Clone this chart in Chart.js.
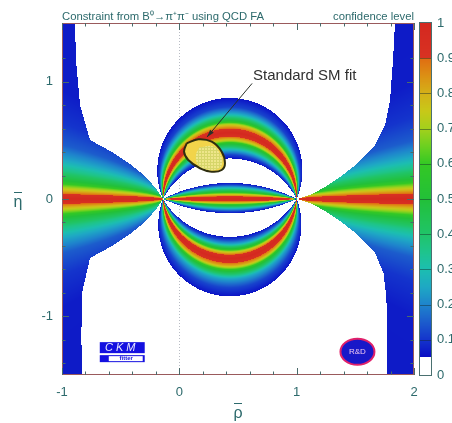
<!DOCTYPE html>
<html>
<head>
<meta charset="utf-8">
<script src="https://cdn.jsdelivr.net/npm/chart.js@4.4.1/dist/chart.umd.min.js"></script>
<style>
  html, body { margin: 0; padding: 0; background: #fff; }
  canvas { display: block; }
</style>
</head>
<body>
<canvas id="alphaChart" width="452" height="423"></canvas>
<script>
// ---- data ----
// pinch points on the eta = 0 axis (left, right)
const pinchRho = [-0.139, 1.0];

// central ring + lens: confidence level vs angle (deg) subtended by the pinch points
const ringUpperPhi = [66.9, 67, 72, 76, 81, 84, 87, 90.5, 94, 98, 101, 108, 113, 117.5, 117.6, 152.9, 153, 156, 160, 167.5, 172, 176, 180];
const ringUpperCL  = [0, 0.06, 0.12, 0.25, 0.5, 0.75, 0.9, 1, 0.9, 0.7, 0.5, 0.25, 0.12, 0.06, 0, 0, 0.06, 0.12, 0.25, 0.5, 0.75, 0.92, 1];
const ringLowerPhi = [68.9, 69, 74, 80, 85.5, 90, 93, 96.5, 100, 103, 106.7, 112, 117, 121, 121.1, 155.9, 156, 159, 163, 169, 173, 176.5, 180];
const ringLowerCL  = [0, 0.06, 0.12, 0.25, 0.5, 0.8, 0.92, 1, 0.92, 0.75, 0.5, 0.25, 0.12, 0.06, 0, 0, 0.06, 0.12, 0.25, 0.5, 0.75, 0.92, 1];

// outer wedges: confidence level vs |eta| / sqrt(distance from pinch)
const wedgeU  = [0, 0.04, 0.09, 0.17, 0.26, 0.36, 0.5, 0.7, 1.0, 5];
const wedgeCL = [1, 0.92, 0.75, 0.5, 0.36, 0.25, 0.15, 0.1, 0.07, 0.06];

// excluded (white) regions around the ring, upper and lower
const whiteTopRho = [-0.889, -0.881, -0.846, -0.761, -0.574, -0.420, -0.284, -0.190, -0.139, 1.003, 1.114, 1.242, 1.370, 1.523, 1.668, 1.753, 1.796, 1.821, 1.838, 1.838, -0.889];
const whiteTopEta = [1.5, 1.185, 0.801, 0.503, 0.401, 0.298, 0.188, 0.077, 0, 0, 0.034, 0.102, 0.188, 0.307, 0.460, 0.631, 0.844, 1.185, 1.5, 1.6, 1.6];
const whiteBotRho = [-0.829, -0.835, -0.830, -0.761, -0.574, -0.420, -0.284, -0.190, -0.139, 1.003, 1.114, 1.242, 1.370, 1.523, 1.668, 1.740, 1.765, 1.770, 1.770, 1.770, -0.829];
const whiteBotEta = [-1.5, -1.185, -0.801, -0.503, -0.401, -0.298, -0.188, -0.077, 0, 0, -0.034, -0.102, -0.188, -0.307, -0.460, -0.631, -0.844, -1.185, -1.5, -1.6, -1.6];

// "Standard SM fit" contour
const smRho = [0.063, 0.162, 0.276, 0.361, 0.389, 0.361, 0.276, 0.176, 0.076, 0.040, 0.063];
const smEta = [0.475, 0.509, 0.488, 0.403, 0.304, 0.247, 0.233, 0.262, 0.332, 0.403, 0.475];
const smHatchRho = [0.17, 0.29, 0.35, 0.365, 0.33, 0.24, 0.16, 0.14, 0.17];
const smHatchEta = [0.44, 0.45, 0.38, 0.30, 0.255, 0.25, 0.29, 0.37, 0.44];

// colour scale
const clStops  = [0.05, 0.1, 0.15, 0.2, 0.25, 0.3, 0.35, 0.4, 0.5, 0.6, 0.65, 0.7, 0.75, 0.8, 0.85, 0.9, 0.901, 1];
const clColors = ['#0a0cc4', '#1434cc', '#1c5ccc', '#1e84cc', '#1ea8c4', '#1cbeb0', '#1ec48c', '#20c468', '#22c038', '#34c824', '#6cd020', '#a4d01c', '#c8c818', '#d4b018', '#dc9014', '#e06c12', '#d83222', '#d42820'];

// ticks
const xTickValues = [-1, 0, 1, 2];
const yTickValues = [-1, 0, 1];
const clTickValues = [0, 0.1, 0.2, 0.3, 0.4, 0.5, 0.6, 0.7, 0.8, 0.9, 1];
const clTickLabels = ['0', '0.1', '0.2', '0.3', '0.4', '0.5', '0.6', '0.7', '0.8', '0.9', '1'];

const textColor = '#2d6a6c';
const fontFamily = '"Liberation Sans", Arial, sans-serif';

function interp(xs, ys, v) {
  if (v <= xs[0]) return ys[0];
  for (let i = 1; i < xs.length; i++) {
    if (v <= xs[i]) {
      const t = (v - xs[i - 1]) / (xs[i] - xs[i - 1]);
      return ys[i - 1] + t * (ys[i] - ys[i - 1]);
    }
  }
  return ys[ys.length - 1];
}

function inside(rs, es, r, e) {
  let c = false;
  for (let i = 0, j = rs.length - 1; i < rs.length; j = i++) {
    if ((es[i] > e) !== (es[j] > e) &&
        r < (rs[j] - rs[i]) * (e - es[i]) / (es[j] - es[i]) + rs[i]) c = !c;
  }
  return c;
}

function confidence(r, e) {
  const ax = pinchRho[0] - r, bx = pinchRho[1] - r, ey = -e;
  const la = Math.hypot(ax, ey), lb = Math.hypot(bx, ey);
  let phi = 0;
  if (la > 0 && lb > 0) {
    const c = Math.max(-1, Math.min(1, (ax * bx + ey * ey) / (la * lb)));
    phi = Math.acos(c) * 180 / Math.PI;
  }
  const ring = e >= 0 ? interp(ringUpperPhi, ringUpperCL, phi) : interp(ringLowerPhi, ringLowerCL, phi);
  let wedge = 0;
  if (r < pinchRho[0] || r > pinchRho[1]) {
    const white = e >= 0 ? inside(whiteTopRho, whiteTopEta, r, e) : inside(whiteBotRho, whiteBotEta, r, e);
    if (!white) {
      const d = r < pinchRho[0] ? pinchRho[0] - r : r - pinchRho[1];
      wedge = interp(wedgeU, wedgeCL, Math.abs(e) / Math.sqrt(d));
    }
  }
  return Math.max(ring, wedge);
}

const clRgb = clColors.map(h => [parseInt(h.slice(1, 3), 16), parseInt(h.slice(3, 5), 16), parseInt(h.slice(5, 7), 16)]);
function clColor(cl) {
  if (cl <= clStops[0]) return clColors[0];
  for (let i = 1; i < clStops.length; i++) {
    if (cl <= clStops[i]) {
      const t = (cl - clStops[i - 1]) / (clStops[i] - clStops[i - 1]);
      const a = clRgb[i - 1], b = clRgb[i];
      return 'rgb(' + Math.round(a[0] + t * (b[0] - a[0])) + ',' + Math.round(a[1] + t * (b[1] - a[1])) + ',' + Math.round(a[2] + t * (b[2] - a[2])) + ')';
    }
  }
  return clColors[clColors.length - 1];
}

// hatch pattern for the inner part of the SM contour
const pat = document.createElement('canvas');
pat.width = 3; pat.height = 3;
const pctx = pat.getContext('2d');
pctx.fillStyle = '#eee68a';
pctx.fillRect(0, 0, 3, 3);
pctx.fillStyle = '#d6d66a';
pctx.fillRect(0, 0, 1, 3);
pctx.fillRect(0, 0, 3, 1);

// CL map + colour bar, drawn through the chart scales
const clMapPlugin = {
  id: 'clMap',
  beforeDatasetsDraw(chart) {
    const {ctx, chartArea: a, scales: {x, y, cl}} = chart;
    ctx.save();
    // dotted rho = 0 line
    ctx.strokeStyle = '#b8bcc4';
    ctx.setLineDash([1, 2]);
    ctx.beginPath();
    ctx.moveTo(Math.round(x.getPixelForValue(0)) + 0.5, a.top);
    ctx.lineTo(Math.round(x.getPixelForValue(0)) + 0.5, a.bottom);
    ctx.stroke();
    ctx.setLineDash([]);

    ctx.beginPath(); ctx.rect(a.left, a.top, a.width, a.height); ctx.clip();
    const nx = Math.round(a.width), ny = Math.round(a.height);
    const dx = (x.max - x.min) / nx, dy = (y.max - y.min) / ny;
    for (let i = 0; i < nx; i++) {
      const r0 = x.min + i * dx;
      const px0 = x.getPixelForValue(r0), px1 = x.getPixelForValue(r0 + dx);
      for (let j = 0; j < ny; j++) {
        const e0 = y.min + j * dy;
        const v = confidence(r0 + dx / 2, e0 + dy / 2);
        if (v < 0.05) continue;
        const py0 = y.getPixelForValue(e0), py1 = y.getPixelForValue(e0 + dy);
        ctx.fillStyle = clColor(v);
        ctx.fillRect(px0, py1, px1 - px0, py0 - py1);
      }
    }
    ctx.restore();

    // colour bar
    ctx.save();
    const bx0 = 420, bx1 = 431;
    const top = cl.getPixelForValue(1), bot = cl.getPixelForValue(0);
    for (let p = Math.floor(top); p < bot; p++) {
      const v = cl.getValueForPixel(p + 0.5);
      ctx.fillStyle = v < 0.05 ? '#ffffff' : clColor(v);
      ctx.fillRect(bx0, p, bx1 - bx0, 1);
    }
    ctx.strokeStyle = 'rgba(20,40,40,0.45)';
    ctx.lineWidth = 1;
    clTickValues.forEach(v => {
      if (v === 0 || v === 1) return;
      const p = Math.round(cl.getPixelForValue(v)) + 0.5;
      ctx.beginPath(); ctx.moveTo(bx0, p); ctx.lineTo(bx1, p); ctx.stroke();
    });
    ctx.strokeStyle = '#4a7070';
    ctx.strokeRect(bx0 - 0.5, top - 0.5, bx1 - bx0 + 1, bot - top + 1);
    ctx.restore();
  },
  afterDatasetsDraw(chart) {
    const {ctx, chartArea: a, scales: {x, y}} = chart;
    ctx.save();
    // arrow to the SM fit
    const sx = x.getPixelForValue(0.62), sy = y.getPixelForValue(0.985);
    const tx = x.getPixelForValue(0.236), ty = y.getPixelForValue(0.528);
    ctx.strokeStyle = '#2a302a';
    ctx.fillStyle = '#2a302a';
    ctx.lineWidth = 1;
    ctx.beginPath(); ctx.moveTo(sx, sy); ctx.lineTo(tx, ty); ctx.stroke();
    const ang = Math.atan2(ty - sy, tx - sx);
    ctx.beginPath();
    ctx.moveTo(tx, ty);
    ctx.lineTo(tx - 8 * Math.cos(ang - 0.3), ty - 8 * Math.sin(ang - 0.3));
    ctx.lineTo(tx - 8 * Math.cos(ang + 0.3), ty - 8 * Math.sin(ang + 0.3));
    ctx.closePath(); ctx.fill();

    ctx.fillStyle = '#303030';
    ctx.font = '15px ' + fontFamily;
    ctx.textBaseline = 'middle';
    ctx.textAlign = 'left';
    ctx.fillText('Standard SM fit', x.getPixelForValue(0.628), y.getPixelForValue(1.048));

    // CKM fitter logo
    const lx = x.getPixelForValue(-0.678), lw = x.getPixelForValue(-0.295) - lx;
    const ly = y.getPixelForValue(-1.22);
    ctx.fillStyle = '#1410e0';
    ctx.fillRect(lx, ly, lw, 11);
    ctx.fillRect(lx, ly + 13, lw, 7);
    ctx.fillStyle = '#ffffff';
    ctx.fillRect(lx + 9, ly + 14, lw - 11, 5);
    ctx.fillStyle = '#e8e8ff';
    ctx.font = 'italic 11px ' + fontFamily;
    ctx.textAlign = 'center';
    ctx.fillText('C K M', lx + lw / 2 - 2, ly + 6);
    ctx.fillStyle = '#1410e0';
    ctx.font = 'bold 6px ' + fontFamily;
    ctx.fillText('fitter', lx + lw / 2 + 4, ly + 16.5);

    // R&D badge
    const ex = x.getPixelForValue(1.518), ey = y.getPixelForValue(-1.302);
    ctx.beginPath();
    ctx.ellipse(ex, ey, 17, 13, 0, 0, Math.PI * 2);
    ctx.fillStyle = '#1818c8';
    ctx.fill();
    ctx.lineWidth = 2;
    ctx.strokeStyle = '#e0206a';
    ctx.stroke();
    ctx.fillStyle = '#f0c8f0';
    ctx.font = '8px ' + fontFamily;
    ctx.fillText('R&D', ex, ey + 0.5);

    // frame and inward ticks
    ctx.strokeStyle = '#9a5a5c';
    ctx.lineWidth = 1;
    ctx.strokeRect(a.left + 0.5, a.top + 0.5, a.width - 1, a.height - 1);
    ctx.strokeStyle = '#4a6a6a';
    for (let k = 0; k <= 15; k++) {
      const v = -1 + k * 0.2;
      const major = Math.abs(v - Math.round(v)) < 1e-6;
      const len = major ? 7 : 3.5;
      const p = Math.round(x.getPixelForValue(v)) + 0.5;
      ctx.beginPath();
      ctx.moveTo(p, a.bottom); ctx.lineTo(p, a.bottom - len);
      ctx.moveTo(p, a.top); ctx.lineTo(p, a.top + len);
      ctx.stroke();
    }
    for (let k = 1; k <= 14; k++) {
      const v = -1.4 + (k - 1) * 0.2;
      const major = Math.abs(v - Math.round(v)) < 1e-6;
      const len = major ? 7 : 3.5;
      const p = Math.round(y.getPixelForValue(v)) + 0.5;
      ctx.beginPath();
      ctx.moveTo(a.left, p); ctx.lineTo(a.left + len, p);
      ctx.moveTo(a.right, p); ctx.lineTo(a.right - len, p);
      ctx.stroke();
    }

    // titles
    ctx.fillStyle = textColor;
    ctx.font = '11.3px ' + fontFamily;
    ctx.textBaseline = 'alphabetic';
    ctx.textAlign = 'left';
    ctx.fillText('Constraint from B\u2070\u2192\u03c0\u207a\u03c0\u207b using QCD FA', a.left, 20);
    ctx.textAlign = 'right';
    ctx.fillText('confidence level', a.right, 20);

    // axis titles (rho-bar, eta-bar)
    ctx.font = '16px ' + fontFamily;
    ctx.textAlign = 'center';
    ctx.textBaseline = 'middle';
    const rx = (a.left + a.right) / 2;
    ctx.fillText('\u03c1', rx, 414);
    ctx.fillText('\u03b7', 18, 203);
    ctx.strokeStyle = textColor;
    ctx.lineWidth = 1.2;
    ctx.beginPath();
    ctx.moveTo(rx - 4, 403.5); ctx.lineTo(rx + 4, 403.5);
    ctx.moveTo(14, 192.5); ctx.lineTo(22, 192.5);
    ctx.stroke();
    ctx.restore();
  }
};

const ctx = document.getElementById('alphaChart').getContext('2d');
const hatchPattern = ctx.createPattern(pat, 'repeat');

const chart = new Chart(ctx, {
  type: 'scatter',
  data: {
    datasets: [
      {
        label: 'SM hatch',
        data: smHatchRho.map((r, i) => ({x: r, y: smHatchEta[i]})),
        showLine: true,
        tension: 0.4,
        fill: 'shape',
        backgroundColor: hatchPattern,
        borderWidth: 0,
        pointRadius: 0,
        order: 1
      },
      {
        label: 'Standard SM fit',
        data: smRho.map((r, i) => ({x: r, y: smEta[i]})),
        showLine: true,
        tension: 0.35,
        fill: 'shape',
        backgroundColor: '#f2d44a',
        borderColor: '#2e2e10',
        borderWidth: 2,
        pointRadius: 0,
        order: 2
      }
    ]
  },
  options: {
    responsive: false,
    animation: false,
    devicePixelRatio: 1,
    layout: { padding: { top: 23, left: 0, right: 0, bottom: 0 } },
    plugins: {
      legend: { display: false },
      tooltip: { enabled: false },
      title: { display: false }
    },
    scales: {
      x: {
        type: 'linear',
        position: 'bottom',
        min: -1,
        max: 2,
        grid: { display: false },
        border: { display: false },
        afterBuildTicks: s => { s.ticks = xTickValues.map(v => ({value: v})); },
        afterFit: s => { s.height = 48; },
        ticks: {
          color: textColor,
          padding: 2,
          font: { family: fontFamily, size: 13 },
          callback: v => String(v)
        }
      },
      y: {
        type: 'linear',
        position: 'left',
        min: -1.5,
        max: 1.5,
        grid: { display: false },
        border: { display: false },
        afterBuildTicks: s => { s.ticks = yTickValues.map(v => ({value: v})); },
        afterFit: s => { s.width = 62; },
        ticks: {
          color: textColor,
          padding: 1,
          font: { family: fontFamily, size: 13 },
          callback: v => String(v)
        }
      },
      cl: {
        type: 'linear',
        position: 'right',
        min: 0,
        max: 1,
        grid: { display: false },
        border: { display: false },
        afterBuildTicks: s => { s.ticks = clTickValues.map(v => ({value: v})); },
        afterFit: s => { s.width = 38; },
        ticks: {
          color: textColor,
          padding: 15,
          font: { family: fontFamily, size: 13 },
          callback: (v, i) => clTickLabels[i]
        }
      }
    }
  },
  plugins: [clMapPlugin]
});
</script>
</body>
</html>
